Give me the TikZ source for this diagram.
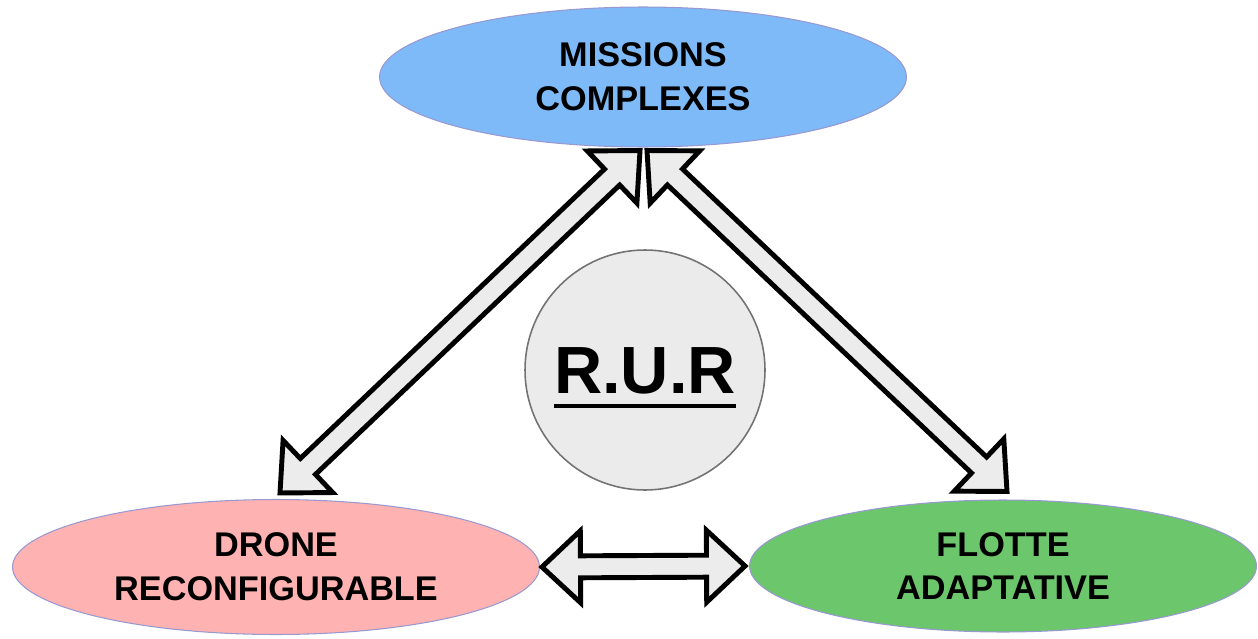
\documentclass[tikz,border=0pt]{standalone}
\usepackage{fontspec}
\setmainfont{Liberation Sans}
\usetikzlibrary{calc,shapes.geometric}
\definecolor{missionblue}{RGB}{126,186,248}
\definecolor{dronepink}{RGB}{255,178,178}
\definecolor{flottegreen}{RGB}{108,198,108}
\definecolor{rurgrey}{RGB}{235,235,235}
\definecolor{arrowgrey}{RGB}{236,236,236}
\tikzset{
	bubble/.style={ellipse, draw=black!45!blue!40, line width=0.6pt, inner sep=0pt, align=center, font=\fontsize{19.5}{25}\selectfont\bfseries},
	rurdisc/.style={circle, draw=black!55, line width=0.9pt, fill=rurgrey, minimum size=4.8cm, inner sep=0pt, text height=27pt, text depth=0pt, font=\fontsize{38}{40}\selectfont\bfseries},
	fatarrow/.style={draw=black, fill=arrowgrey, line width=2.8pt, line join=miter}
}
\newcommand{\barunder}[1]{\setbox0\hbox{#1}\rlap{\smash{\rule[-8pt]{\wd0}{2.3pt}}}\box0}
\def\fatarrow(#1)(#2){\draw[fatarrow] (#1)
	-- ($(#1)!0.77cm!(#2)!0.72cm!90:(#2)$) -- ($(#1)!0.77cm!(#2)!0.22cm!90:(#2)$)
	-- ($(#2)!0.77cm!(#1)!0.22cm!-90:(#1)$) -- ($(#2)!0.77cm!(#1)!0.72cm!-90:(#1)$)
	-- (#2)
	-- ($(#2)!0.77cm!(#1)!0.72cm!90:(#1)$) -- ($(#2)!0.77cm!(#1)!0.22cm!90:(#1)$)
	-- ($(#1)!0.77cm!(#2)!0.22cm!-90:(#2)$) -- ($(#1)!0.77cm!(#2)!0.72cm!-90:(#2)$)
	-- cycle;}
\begin{document}
\begin{tikzpicture}[x=0.02cm, y=-0.02cm]
			%%%%% START %%%%%
			\useasboundingbox (0, 0) rectangle (1258, 639);
			
			\node[bubble, fill=missionblue, minimum width=10.54cm, minimum height=2.8cm] (missions) at (643, 77) {MISSIONS\\COMPLEXES};
			\node[bubble, fill=dronepink, minimum width=10.54cm, minimum height=2.7cm] (drone) at (276, 567) {DRONE\\RECONFIGURABLE};
			\node[bubble, fill=flottegreen, minimum width=10.14cm, minimum height=2.64cm] (flotte) at (1003, 566) {FLOTTE\\ADAPTATIVE};
			
			\node[rurdisc] (rur) at (645, 370) {\barunder{R.U.R}};
			
			% arrow tips
			\coordinate (mL) at ($(missions.south)+(-3, 3)$);
			\coordinate (mR) at ($(missions.south)+(4, 3)$);
			\coordinate (dN) at ($(drone.north)+(4, -6)$);
			\coordinate (fN) at ($(flotte.north)+(4, -8)$);
			\coordinate (dE) at ($(drone.east)+(2, 0)$);
			\coordinate (fW) at ($(flotte.west)+(-4, 0)$);
			
			\fatarrow(mL)(dN)
			\fatarrow(mR)(fN)
			\fatarrow(dE)(fW)
			
			%%%%% END %%%%%
		\end{tikzpicture}
\end{document}
